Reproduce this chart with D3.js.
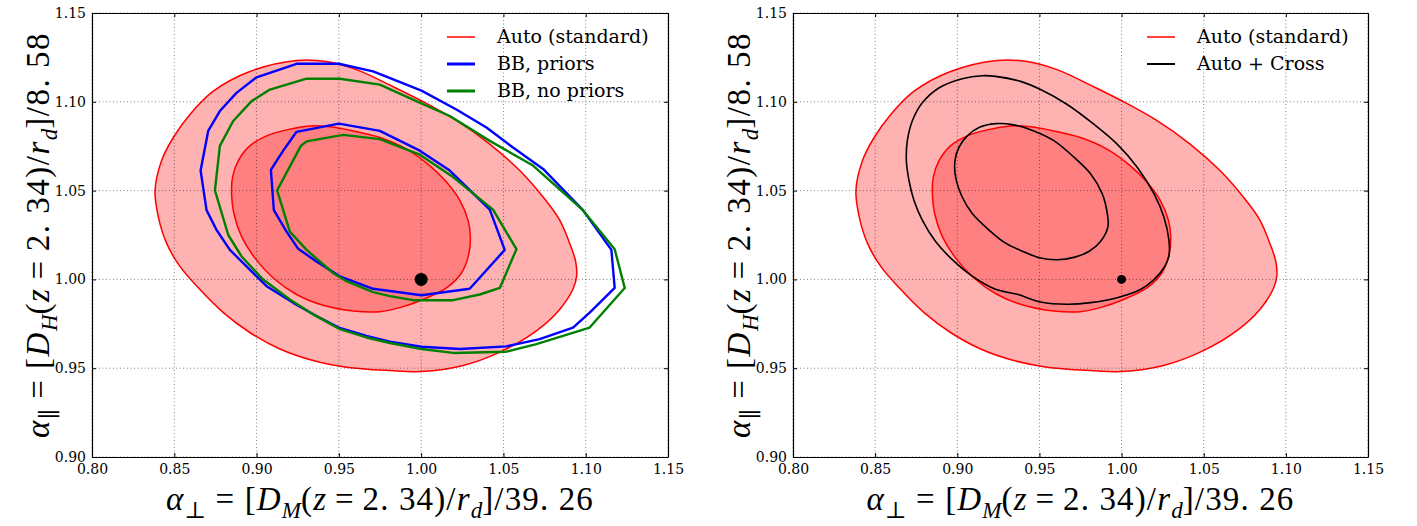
<!DOCTYPE html>
<html>
<head>
<meta charset="utf-8">
<script src="https://cdn.jsdelivr.net/npm/d3@7"></script>
<style>
  html, body { margin: 0; padding: 0; background: #fff; }
  svg { display: block; }
</style>
</head>
<body>
<svg id="chart" width="1417" height="526"></svg>
<script>
// ---------------- data ----------------
const xTicks = [0.80, 0.85, 0.90, 0.95, 1.00, 1.05, 1.10, 1.15];
const yTicks = [0.90, 0.95, 1.00, 1.05, 1.10, 1.15];
const xDomain = [0.80, 1.15];
const yDomain = [0.90, 1.15];

const leftLegend = ["Auto (standard)", "BB, priors", "BB, no priors"];
const rightLegend = ["Auto (standard)", "Auto + Cross"];

const bestFit = [1.00, 1.00];

// Auto (standard): 68% (inner) and 95% (outer) contours
const autoOuter = [
  [0.9243,1.1233],[0.8959,1.1171],[0.8737,1.1060],[0.8595,1.0929],[0.8494,1.0799],
  [0.8423,1.0669],[0.8383,1.0500],[0.8403,1.0352],[0.8453,1.0204],[0.8534,1.0073],
  [0.8656,0.9943],[0.8798,0.9813],[0.8959,0.9701],[0.9142,0.9608],[0.9344,0.9543],
  [0.9546,0.9506],[0.9810,0.9487],[1.0000,0.9481],[1.0255,0.9515],[1.0498,0.9599],
  [1.0700,0.9710],[1.0842,0.9831],[1.0925,0.9950],[1.0945,1.0020],[1.0938,1.0105],
  [1.0902,1.0204],[1.0842,1.0334],[1.0741,1.0464],[1.0599,1.0613],[1.0417,1.0762],
  [1.0214,1.0895],[0.9992,1.1010],[0.9830,1.1085],[0.9607,1.1181],[0.9425,1.1227]
];
const autoInner = [
  [0.9324,1.0864],[0.9182,1.0842],[0.9061,1.0808],[0.8959,1.0752],[0.8889,1.0669],
  [0.8854,1.0576],[0.8848,1.0483],[0.8862,1.0371],[0.8909,1.0241],[0.8990,1.0120],
  [0.9101,1.0008],[0.9243,0.9915],[0.9405,0.9854],[0.9587,0.9822],[0.9749,0.9818],
  [0.9870,0.9841],[1.0012,0.9887],[1.0154,0.9952],[1.0245,1.0036],[1.0291,1.0148],
  [1.0299,1.0241],[1.0285,1.0334],[1.0235,1.0445],[1.0154,1.0548],[1.0052,1.0641],
  [0.9911,1.0734],[0.9749,1.0799],[0.9587,1.0836],[0.9445,1.0859]
];
// BB, priors
const bbPriorsOuter = [
  [0.9243,1.1214],[0.9500,1.1214],[0.9708,1.1171],[1.0002,1.1063],[1.0214,1.0957],
  [1.0397,1.0855],[1.0558,1.0743],[1.0741,1.0622],[1.0983,1.0390],[1.1156,1.0166],
  [1.1176,0.9952],[1.1024,0.9813],[1.0923,0.9729],[1.0720,0.9664],[1.0518,0.9623],
  [1.0235,0.9608],[1.0002,0.9621],[0.9810,0.9649],[0.9668,0.9682],[0.9500,0.9729],
  [0.9364,0.9794],[0.9223,0.9868],[0.9061,0.9962],[0.8939,1.0073],[0.8838,1.0166],
  [0.8757,1.0278],[0.8696,1.0390],[0.8660,1.0613],[0.8706,1.0836],[0.8777,1.0948],
  [0.8878,1.1050],[0.9000,1.1138]
];
const bbPriorsInner = [
  [0.9500,1.0877],[0.9749,1.0836],[0.9992,1.0725],[1.0174,1.0613],[1.0417,1.0393],
  [1.0508,1.0166],[1.0295,0.9947],[1.0002,0.9911],[0.9708,0.9947],[0.9506,1.0017],
  [0.9364,1.0101],[0.9253,1.0172],[0.9182,1.0269],[0.9105,1.0390],[0.9087,1.0617],
  [0.9162,1.0725],[0.9243,1.0831]
];
// BB, no priors
const bbNoPriorsOuter = [
  [0.9304,1.1130],[0.9506,1.1130],[0.9749,1.1097],[0.9971,1.1004],[1.0174,1.0920],
  [1.0417,1.0780],[1.0680,1.0641],[1.0983,1.0390],[1.1176,1.0170],[1.1237,0.9952],
  [1.1024,0.9729],[1.0700,0.9636],[1.0518,0.9593],[1.0194,0.9586],[1.0002,0.9608],
  [0.9810,0.9642],[0.9668,0.9673],[0.9506,0.9720],[0.9344,0.9803],[0.9202,0.9887],
  [0.9040,0.9999],[0.8909,1.0129],[0.8828,1.0250],[0.8747,1.0501],[0.8777,1.0752],
  [0.8858,1.0892],[0.8970,1.1004],[0.9081,1.1069]
];
const bbNoPriorsInner = [
  [0.9526,1.0814],[0.9749,1.0790],[0.9992,1.0702],[1.0194,1.0576],[1.0437,1.0393],
  [1.0579,1.0170],[1.0478,0.9952],[1.0356,0.9915],[1.0194,0.9883],[0.9951,0.9883],
  [0.9810,0.9906],[0.9708,0.9928],[0.9546,0.9990],[0.9465,1.0036],[0.9304,1.0166],
  [0.9202,1.0269],[0.9125,1.0501],[0.9269,1.0752],[0.9304,1.0777]
];
// Auto + Cross
const crossOuter = [
  [0.9030,1.1130],[0.9152,1.1147],[0.9233,1.1143],[0.9385,1.1115],[0.9507,1.1069],
  [0.9669,1.0985],[0.9831,1.0874],[0.9973,1.0762],[1.0095,1.0632],[1.0197,1.0483],
  [1.0257,1.0353],[1.0288,1.0223],[1.0288,1.0130],[1.0257,1.0064],[1.0197,0.9999],
  [1.0115,0.9943],[0.9973,0.9897],[0.9811,0.9869],[0.9669,0.9860],[0.9507,0.9873],
  [0.9365,0.9916],[0.9233,0.9944],[0.9091,1.0018],[0.8970,1.0111],[0.8868,1.0213],
  [0.8787,1.0334],[0.8736,1.0446],[0.8706,1.0557],[0.8690,1.0669],[0.8696,1.0781],
  [0.8726,1.0892],[0.8787,1.0994],[0.8888,1.1078]
];
const crossInner = [
  [0.9233,1.0877],[0.9345,1.0870],[0.9466,1.0836],[0.9588,1.0781],[0.9710,1.0688],
  [0.9811,1.0595],[0.9882,1.0483],[0.9913,1.0371],[0.9917,1.0297],[0.9872,1.0213],
  [0.9801,1.0157],[0.9710,1.0124],[0.9608,1.0111],[0.9507,1.0120],[0.9385,1.0163],
  [0.9294,1.0204],[0.9193,1.0278],[0.9091,1.0371],[0.9030,1.0464],[0.8990,1.0576],
  [0.8986,1.0669],[0.9010,1.0743],[0.9061,1.0808],[0.9132,1.0855]
];

// ---------------- drawing ----------------
const svg = d3.select("#chart");
const TOP = 13, BOTTOM = 457;
const panels = [
  { x0: 92, x1: 668, dotR: 6.5,
    lines: [
      { data: bbPriorsOuter, color: "#0000ff", w: 2.4, curve: d3.curveLinearClosed },
      { data: bbPriorsInner, color: "#0000ff", w: 2.4, curve: d3.curveLinearClosed },
      { data: bbNoPriorsOuter, color: "#008000", w: 2.4, curve: d3.curveLinearClosed },
      { data: bbNoPriorsInner, color: "#008000", w: 2.4, curve: d3.curveLinearClosed }
    ],
    legend: [
      { label: leftLegend[0], color: "#ff0000", w: 1.5 },
      { label: leftLegend[1], color: "#0000ff", w: 3 },
      { label: leftLegend[2], color: "#008000", w: 3 }
    ]
  },
  { x0: 793, x1: 1368, dotR: 4.5,
    lines: [
      { data: crossOuter, color: "#000000", w: 1.6, curve: d3.curveCatmullRomClosed.alpha(0.5) },
      { data: crossInner, color: "#000000", w: 1.6, curve: d3.curveCatmullRomClosed.alpha(0.5) }
    ],
    legend: [
      { label: rightLegend[0], color: "#ff0000", w: 1.5 },
      { label: rightLegend[1], color: "#000000", w: 2 }
    ]
  }
];

const tickFont = "'DejaVu Serif', serif";
const mathFont = "'Liberation Serif', 'DejaVu Serif', serif";
const MATH_FS = 33;

function mathLabel(g, parts, fs, ls) {
  const t = g.append("text")
    .attr("font-family", mathFont)
    .attr("font-size", fs)
    .attr("fill", "#000")
    .attr("text-anchor", "middle");
  let shift = 0;
  parts.forEach(p => {
    const target = p.sub ? fs * 0.24 : 0;
    t.append("tspan").text(p.t)
      .attr("dy", target - shift)
      .attr("letter-spacing", p.sub ? 0 : ls)
      .attr("font-size", p.sub ? fs * 0.7 : fs)
      .attr("font-style", p.i ? "italic" : "normal");
    shift = target;
  });
  return t;
}

const xParts = [
  {t:"α", i:true}, {t:"⊥", sub:true}, {t:" = ["}, {t:"D", i:true}, {t:"M", i:true, sub:true},
  {t:"("}, {t:"z", i:true}, {t:"\u2009=\u20092. 34)/"}, {t:"r", i:true}, {t:"d", i:true, sub:true},
  {t:"]/39. 26"}
];
const yParts = [
  {t:"α", i:true}, {t:"∥", sub:true}, {t:" = ["}, {t:"D", i:true}, {t:"H", i:true, sub:true},
  {t:"("}, {t:"z", i:true}, {t:"\u2009=\u20092. 34)/"}, {t:"r", i:true}, {t:"d", i:true, sub:true},
  {t:"]/8. 58"}
];

function fittedLabel(g, parts, targetW) {
  let t = mathLabel(g, parts, MATH_FS, 0);
  const w = t.node().getComputedTextLength();
  const n = parts.filter(p => !p.sub).map(p => p.t).join("").length;
  t.remove();
  const ls = Math.max(-1, Math.min(1.5, (targetW - w) / n));
  return mathLabel(g, parts, MATH_FS, ls);
}

panels.forEach(P => {
  const g = svg.append("g");
  const x = d3.scaleLinear().domain(xDomain).range([P.x0, P.x1]);
  const y = d3.scaleLinear().domain(yDomain).range([BOTTOM, TOP]);

  // filled Auto contours
  const area = d3.line().x(d => x(d[0])).y(d => y(d[1])).curve(d3.curveCatmullRomClosed.alpha(0.5));
  g.append("path").attr("d", area(autoOuter))
    .attr("fill", "#ff0000").attr("fill-opacity", 0.3)
    .attr("stroke", "#ff0000").attr("stroke-width", 1.5);
  g.append("path").attr("d", area(autoInner))
    .attr("fill", "#ff0000").attr("fill-opacity", 0.28)
    .attr("stroke", "#ff0000").attr("stroke-width", 1.5);

  // grid
  const grid = g.append("g").attr("stroke", "#000").attr("stroke-opacity", 0.55)
    .attr("stroke-width", 0.9).attr("stroke-dasharray", "1,2.5");
  xTicks.forEach(v => grid.append("line").attr("x1", x(v)).attr("x2", x(v)).attr("y1", TOP).attr("y2", BOTTOM));
  yTicks.forEach(v => grid.append("line").attr("x1", P.x0).attr("x2", P.x1).attr("y1", y(v)).attr("y2", y(v)));

  // contour lines
  P.lines.forEach(L => {
    const ln = d3.line().x(d => x(d[0])).y(d => y(d[1])).curve(L.curve);
    g.append("path").attr("d", ln(L.data)).attr("fill", "none")
      .attr("stroke", L.color).attr("stroke-width", L.w).attr("stroke-linejoin", "round");
  });

  // best fit point
  g.append("circle").attr("cx", x(bestFit[0])).attr("cy", y(bestFit[1])).attr("r", P.dotR).attr("fill", "#000");

  // axes
  const fmt = d3.format(".2f");
  const axB = g.append("g").attr("transform", `translate(0,${BOTTOM})`)
    .call(d3.axisBottom(x).tickValues(xTicks).tickFormat(fmt).tickSizeInner(-4).tickSizeOuter(0).tickPadding(7));
  const axL = g.append("g").attr("transform", `translate(${P.x0},0)`)
    .call(d3.axisLeft(y).tickValues(yTicks).tickFormat(fmt).tickSizeInner(-4).tickSizeOuter(0).tickPadding(6));
  const axT = g.append("g").attr("transform", `translate(0,${TOP})`)
    .call(d3.axisTop(x).tickValues(xTicks).tickFormat("").tickSizeInner(-4).tickSizeOuter(0));
  const axR = g.append("g").attr("transform", `translate(${P.x1},0)`)
    .call(d3.axisRight(y).tickValues(yTicks).tickFormat("").tickSizeInner(-4).tickSizeOuter(0));
  [axB, axL, axT, axR].forEach(a => {
    a.attr("font-family", tickFont);
    a.select(".domain").attr("stroke", "#000").attr("stroke-width", 1.2);
    a.selectAll(".tick line").attr("stroke", "#000").attr("stroke-width", 1);
    a.selectAll(".tick text").attr("font-family", tickFont).attr("font-size", 14).attr("fill", "#000");
  });

  // legend
  const lx = P.x1 - 221;
  P.legend.forEach((L, i) => {
    const ry = 37 + 27 * i;
    g.append("line").attr("x1", lx).attr("x2", lx + 28).attr("y1", ry).attr("y2", ry)
      .attr("stroke", L.color).attr("stroke-width", L.w);
    g.append("text").attr("x", lx + 50).attr("y", ry + 6).text(L.label)
      .attr("font-family", tickFont).attr("font-size", 19).attr("fill", "#000");
  });

  // axis labels
  const xlg = g.append("g").attr("transform", `translate(${(P.x0 + P.x1) / 2},510)`);
  fittedLabel(xlg, xParts, 428);
  const ylg = g.append("g").attr("transform", `translate(${P.x0 - 43},${(TOP + BOTTOM) / 2}) rotate(-90)`);
  fittedLabel(ylg, yParts, 410);
});
</script>
</body>
</html>
